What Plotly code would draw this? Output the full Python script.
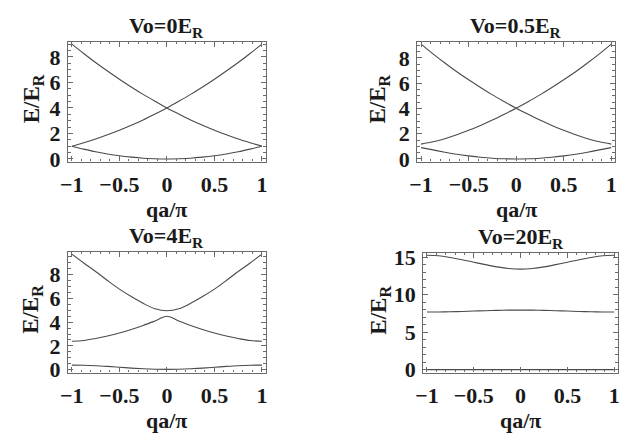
import plotly.graph_objects as go

W, H = 621, 444

# ---- data ----
q = [-1, -0.875, -0.75, -0.625, -0.5, -0.375, -0.25, -0.125, 0,
     0.125, 0.25, 0.375, 0.5, 0.625, 0.75, 0.875, 1]

panel_titles = ["Vo=0E<sub>R</sub>", "Vo=0.5E<sub>R</sub>", "Vo=4E<sub>R</sub>", "Vo=20E<sub>R</sub>"]

# Vo = 0
v0_band1 = [1.0, 0.77, 0.56, 0.39, 0.25, 0.14, 0.06, 0.02, 0.0, 0.02, 0.06, 0.14, 0.25, 0.39, 0.56, 0.77, 1.0]
v0_rise = [1.0, 1.27, 1.56, 1.89, 2.25, 2.64, 3.06, 3.52, 4.0, 4.52, 5.06, 5.64, 6.25, 6.89, 7.56, 8.27, 9.0]
v0_fall = [9.0, 8.27, 7.56, 6.89, 6.25, 5.64, 5.06, 4.52, 4.0, 3.52, 3.06, 2.64, 2.25, 1.89, 1.56, 1.27, 1.0]

# Vo = 0.5
v05_band1 = [0.90, 0.72, 0.54, 0.38, 0.25, 0.14, 0.06, 0.02, 0.0, 0.02, 0.06, 0.14, 0.25, 0.38, 0.54, 0.72, 0.90]
v05_rise = [1.18, 1.36, 1.61, 1.92, 2.27, 2.66, 3.08, 3.54, 4.02, 4.54, 5.08, 5.66, 6.27, 6.91, 7.60, 8.33, 9.1]
v05_fall = [9.1, 8.33, 7.60, 6.91, 6.27, 5.66, 5.08, 4.54, 4.02, 3.54, 3.08, 2.66, 2.27, 1.92, 1.61, 1.36, 1.18]

# Vo = 4
v4_band1 = [0.38, 0.37, 0.33, 0.27, 0.20, 0.13, 0.07, 0.03, 0.02, 0.03, 0.07, 0.13, 0.20, 0.27, 0.33, 0.37, 0.38]
v4_band2 = [2.39, 2.45, 2.62, 2.83, 3.08, 3.38, 3.72, 4.10, 4.50, 4.10, 3.72, 3.38, 3.08, 2.83, 2.62, 2.45, 2.39]
v4_band3 = [9.73, 8.98, 8.26, 7.50, 6.78, 6.15, 5.58, 5.12, 4.96, 5.12, 5.58, 6.15, 6.78, 7.50, 8.26, 8.98, 9.73]

# Vo = 20
v20_band1 = [0.0, 0.0, 0.0, 0.0, 0.0, 0.0, 0.0, 0.0, 0.0, 0.0, 0.0, 0.0, 0.0, 0.0, 0.0, 0.0, 0.0]
v20_band2 = [7.68, 7.69, 7.72, 7.76, 7.81, 7.86, 7.90, 7.93, 7.94, 7.93, 7.90, 7.86, 7.81, 7.76, 7.72, 7.69, 7.68]
v20_band3 = [15.25, 15.18, 14.95, 14.66, 14.33, 14.00, 13.70, 13.48, 13.40, 13.48, 13.70, 14.00, 14.33, 14.66, 14.95, 15.18, 15.25]

x_tickvals = [-1, -0.5, 0, 0.5, 1]
x_ticktext = ["\u22121", "\u22120.5", "0", "0.5", "1"]
y_ticks_small = [0, 2, 4, 6, 8]
y_ticks_big = [0, 5, 10, 15]

panels = [
    [v0_band1, v0_rise, v0_fall],
    [v05_band1, v05_rise, v05_fall],
    [v4_band1, v4_band2, v4_band3],
    [v20_band1, v20_band2, v20_band3],
]

# ---- layout geometry (pixels) ----
boxes = [  # x0, x1, ytop, ybottom
    (61, 262, 35, 160),
    (416, 617, 35, 160),
    (61, 262, 254, 380),
    (422, 620, 255, 380),
]
ytitle_dx = [36, 39, 36, 44]
yranges = [[-0.2, 9.2], [-0.2, 9.3], [-0.25, 9.93], [-0.4, 15.6]]
yticks = [y_ticks_small, y_ticks_small, y_ticks_small, y_ticks_big]
yminor = [0.5, 0.5, 0.5, 1]

LINE = "#4a4a4a"
FRAME = "#6a6a6a"
FONT = "Liberation Serif"
TXT = "#1a1a1a"

fig = go.Figure()
layout = dict(width=W, height=H, margin=dict(l=0, r=0, t=0, b=0),
              paper_bgcolor="white", plot_bgcolor="white", showlegend=False)

annotations = []
for i, (bands, box) in enumerate(zip(panels, boxes)):
    n = "" if i == 0 else str(i + 1)
    x0, x1, yt, yb = box
    for b in bands:
        fig.add_trace(go.Scatter(x=q, y=b, mode="lines", xaxis="x" + n, yaxis="y" + n,
                                 line=dict(color=LINE, width=1.1, shape="spline"),
                                 hoverinfo="skip"))
    common = dict(showline=True, linecolor=FRAME, linewidth=1.2, mirror="allticks",
                  ticks="inside", ticklen=5, tickcolor=FRAME, tickwidth=1,
                  showgrid=False, zeroline=False, ticklabeloverflow="allow",
                  tickfont=dict(family=FONT, size=22, color=TXT, weight="bold"))
    layout["xaxis" + n] = dict(common, domain=[x0 / W, x1 / W], range=[-1.04, 1.04],
                               anchor="y" + n, tickvals=x_tickvals, ticktext=x_ticktext,
                               ticklabelstandoff=3,
                               minor=dict(ticks="inside", ticklen=2.5, dtick=0.1,
                                          tick0=0, tickcolor=FRAME, showgrid=False))
    layout["yaxis" + n] = dict(common, domain=[1 - yb / H, 1 - yt / H], range=yranges[i],
                               anchor="x" + n, tickvals=yticks[i],
                               ticklabelstandoff=2,
                               minor=dict(ticks="inside", ticklen=2.5, dtick=yminor[i],
                                          tick0=0, tickcolor=FRAME, showgrid=False))
    cx = (x0 + x1) / 2
    annotations.append(dict(text="<b>" + panel_titles[i] + "</b>", x=cx / W, y=1 - (yt - 15) / H,
                            xref="paper", yref="paper", showarrow=False,
                            xanchor="center", yanchor="middle",
                            font=dict(family=FONT, size=22, color=TXT)))
    annotations.append(dict(text="<b>qa/\u03c0</b>", x=cx / W, y=1 - (yb + 50) / H,
                            xref="paper", yref="paper", showarrow=False,
                            xanchor="center", yanchor="middle",
                            font=dict(family=FONT, size=22, color=TXT)))
    annotations.append(dict(text="<b>E/E<sub>R</sub></b>", x=(x0 - ytitle_dx[i]) / W,
                            y=1 - ((yt + yb) / 2 - 3) / H,
                            xref="paper", yref="paper", showarrow=False, textangle=-90,
                            xanchor="center", yanchor="middle",
                            font=dict(family=FONT, size=23, color=TXT)))

layout["annotations"] = annotations
fig.update_layout(**layout)
fig.write_html("out.html", config={"displayModeBar": False},
               post_script="document.body.style.margin='0';")
